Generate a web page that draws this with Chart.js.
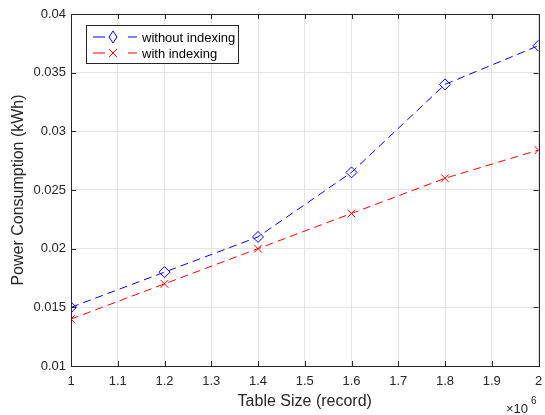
<!DOCTYPE html>
<html lang="en">
<head>
  <meta charset="UTF-8">
  <title>Power Consumption vs Table Size</title>
  <script src="https://cdn.jsdelivr.net/npm/chart.js"></script>
  <style>
    html, body { margin: 0; padding: 0; background: #fff; }
    #wrap { width: 545px; height: 415px; }
  </style>
</head>
<body>
  <div id="wrap"><canvas id="powerChart" width="545" height="415"></canvas></div>

  <script>
    // Data (x in units of 10^6 records)
    const tableSizes = [1.0, 1.2, 1.4, 1.6, 1.8, 2.0];
    const withoutIndexing = [0.015, 0.018, 0.021, 0.0265, 0.034, 0.0373];
    const withIndexing = [0.014, 0.017, 0.020, 0.023, 0.026, 0.0284];
    const xTicks = [1, 1.1, 1.2, 1.3, 1.4, 1.5, 1.6, 1.7, 1.8, 1.9, 2];
    const yTicks = [0.01, 0.015, 0.02, 0.025, 0.03, 0.035, 0.04];

    const textColor = '#262626';
    const fontFamily = "'Liberation Sans', Arial, sans-serif";

    const toPoints = (xs, ys) => xs.map((x, i) => ({ x: x, y: ys[i] }));

    // Box, inward ticks, x10^6 label and legend, MATLAB style
    const matlabAxes = {
      id: 'matlabAxes',
      afterDraw(chart) {
        const { ctx, chartArea: a, scales } = chart;
        ctx.save();
        ctx.strokeStyle = textColor;
        ctx.lineWidth = 1;
        ctx.beginPath();
        xTicks.forEach(v => {
          const px = Math.round(scales.x.getPixelForValue(v)) + 0.5;
          ctx.moveTo(px, a.bottom); ctx.lineTo(px, a.bottom - 5);
          ctx.moveTo(px, a.top); ctx.lineTo(px, a.top + 5);
        });
        yTicks.forEach(v => {
          const py = Math.round(scales.y.getPixelForValue(v)) + 0.5;
          ctx.moveTo(a.left, py); ctx.lineTo(a.left + 5, py);
          ctx.moveTo(a.right, py); ctx.lineTo(a.right - 5, py);
        });
        ctx.stroke();
        ctx.strokeRect(Math.round(a.left) + 0.5, Math.round(a.top) + 0.5,
          Math.round(a.right - a.left), Math.round(a.bottom - a.top));

        // exponent label
        ctx.fillStyle = textColor;
        ctx.textBaseline = 'alphabetic';
        ctx.textAlign = 'left';
        ctx.font = '13px ' + fontFamily;
        ctx.fillText('\u00d710', 506, 413);
        ctx.font = '10px ' + fontFamily;
        ctx.fillText('6', 531, 404);

        // legend
        const lx = 86, ly = 25, lw = 152, lh = 38;
        ctx.fillStyle = '#fff';
        ctx.fillRect(lx, ly, lw, lh);
        ctx.strokeStyle = textColor;
        ctx.strokeRect(lx + 0.5, ly + 0.5, lw, lh);
        const items = [
          { label: 'without indexing', color: '#0000ff', marker: 'diamond', y: ly + 12 },
          { label: 'with indexing', color: '#ff0000', marker: 'x', y: ly + 28 }
        ];
        items.forEach(it => {
          ctx.strokeStyle = it.color;
          ctx.lineWidth = 1;
          ctx.beginPath();
          ctx.moveTo(lx + 7, it.y); ctx.lineTo(lx + 19, it.y);
          ctx.moveTo(lx + 42, it.y); ctx.lineTo(lx + 51, it.y);
          ctx.stroke();
          const cx = lx + 27, cy = it.y, r = 6;
          ctx.beginPath();
          if (it.marker === 'diamond') {
            ctx.moveTo(cx, cy - r); ctx.lineTo(cx + 4, cy);
            ctx.lineTo(cx, cy + r); ctx.lineTo(cx - 4, cy); ctx.closePath();
          } else {
            ctx.moveTo(cx - 4, cy - 4); ctx.lineTo(cx + 4, cy + 4);
            ctx.moveTo(cx + 4, cy - 4); ctx.lineTo(cx - 4, cy + 4);
          }
          ctx.stroke();
          ctx.fillStyle = '#000';
          ctx.font = '13px ' + fontFamily;
          ctx.textBaseline = 'middle';
          ctx.fillText(it.label, lx + 56, it.y + 1);
        });
        ctx.restore();
      }
    };

    const ctx = document.getElementById('powerChart').getContext('2d');
    new Chart(ctx, {
      type: 'line',
      data: {
        datasets: [
          {
            label: 'without indexing',
            data: toPoints(tableSizes, withoutIndexing),
            borderColor: '#0000ff',
            backgroundColor: 'rgba(0,0,0,0)',
            borderWidth: 1,
            borderDash: [8, 5],
            pointStyle: 'rectRot',
            pointRadius: 5.5,
            pointBorderColor: '#0000ff',
            pointBackgroundColor: 'rgba(0,0,0,0)',
            pointBorderWidth: 1,
            tension: 0
          },
          {
            label: 'with indexing',
            data: toPoints(tableSizes, withIndexing),
            borderColor: '#ff0000',
            backgroundColor: 'rgba(0,0,0,0)',
            borderWidth: 1,
            borderDash: [8, 5],
            pointStyle: 'crossRot',
            pointRadius: 5.5,
            pointBorderColor: '#ff0000',
            pointBorderWidth: 1,
            tension: 0
          }
        ]
      },
      options: {
        responsive: false,
        animation: false,
        layout: { padding: { top: 14, right: 3, left: 0, bottom: 0 } },
        plugins: {
          legend: { display: false },
          tooltip: { enabled: false }
        },
        scales: {
          x: {
            type: 'linear',
            min: 1,
            max: 2,
            afterBuildTicks: s => { s.ticks = xTicks.map(v => ({ value: v })); },
            afterFit: s => { s.height = 49; s.paddingRight = 0; s.paddingLeft = 0; },
            ticks: {
              color: textColor,
              font: { family: fontFamily, size: 13 },
              padding: 8,
              maxRotation: 0,
              callback: v => String(Math.round(v * 10) / 10)
            },
            grid: { color: '#e3e3e3', drawTicks: false },
            border: { display: false },
            title: {
              display: true,
              text: 'Table Size (record)',
              color: textColor,
              font: { family: fontFamily, size: 16 },
              padding: { top: 1 }
            }
          },
          y: {
            type: 'linear',
            min: 0.01,
            max: 0.04,
            afterBuildTicks: s => { s.ticks = yTicks.map(v => ({ value: v })); },
            afterFit: s => { s.width = 71; s.paddingTop = 0; s.paddingBottom = 0; },
            ticks: {
              color: textColor,
              font: { family: fontFamily, size: 13 },
              padding: 5,
              callback: v => String(Math.round(v * 1000) / 1000)
            },
            grid: { color: '#e3e3e3', drawTicks: false },
            border: { display: false },
            title: {
              display: true,
              text: 'Power Consumption (kWh)',
              color: textColor,
              font: { family: fontFamily, size: 16 },
              padding: { top: 9, bottom: 0 }
            }
          }
        }
      },
      plugins: [matlabAxes]
    });
  </script>
</body>
</html>
